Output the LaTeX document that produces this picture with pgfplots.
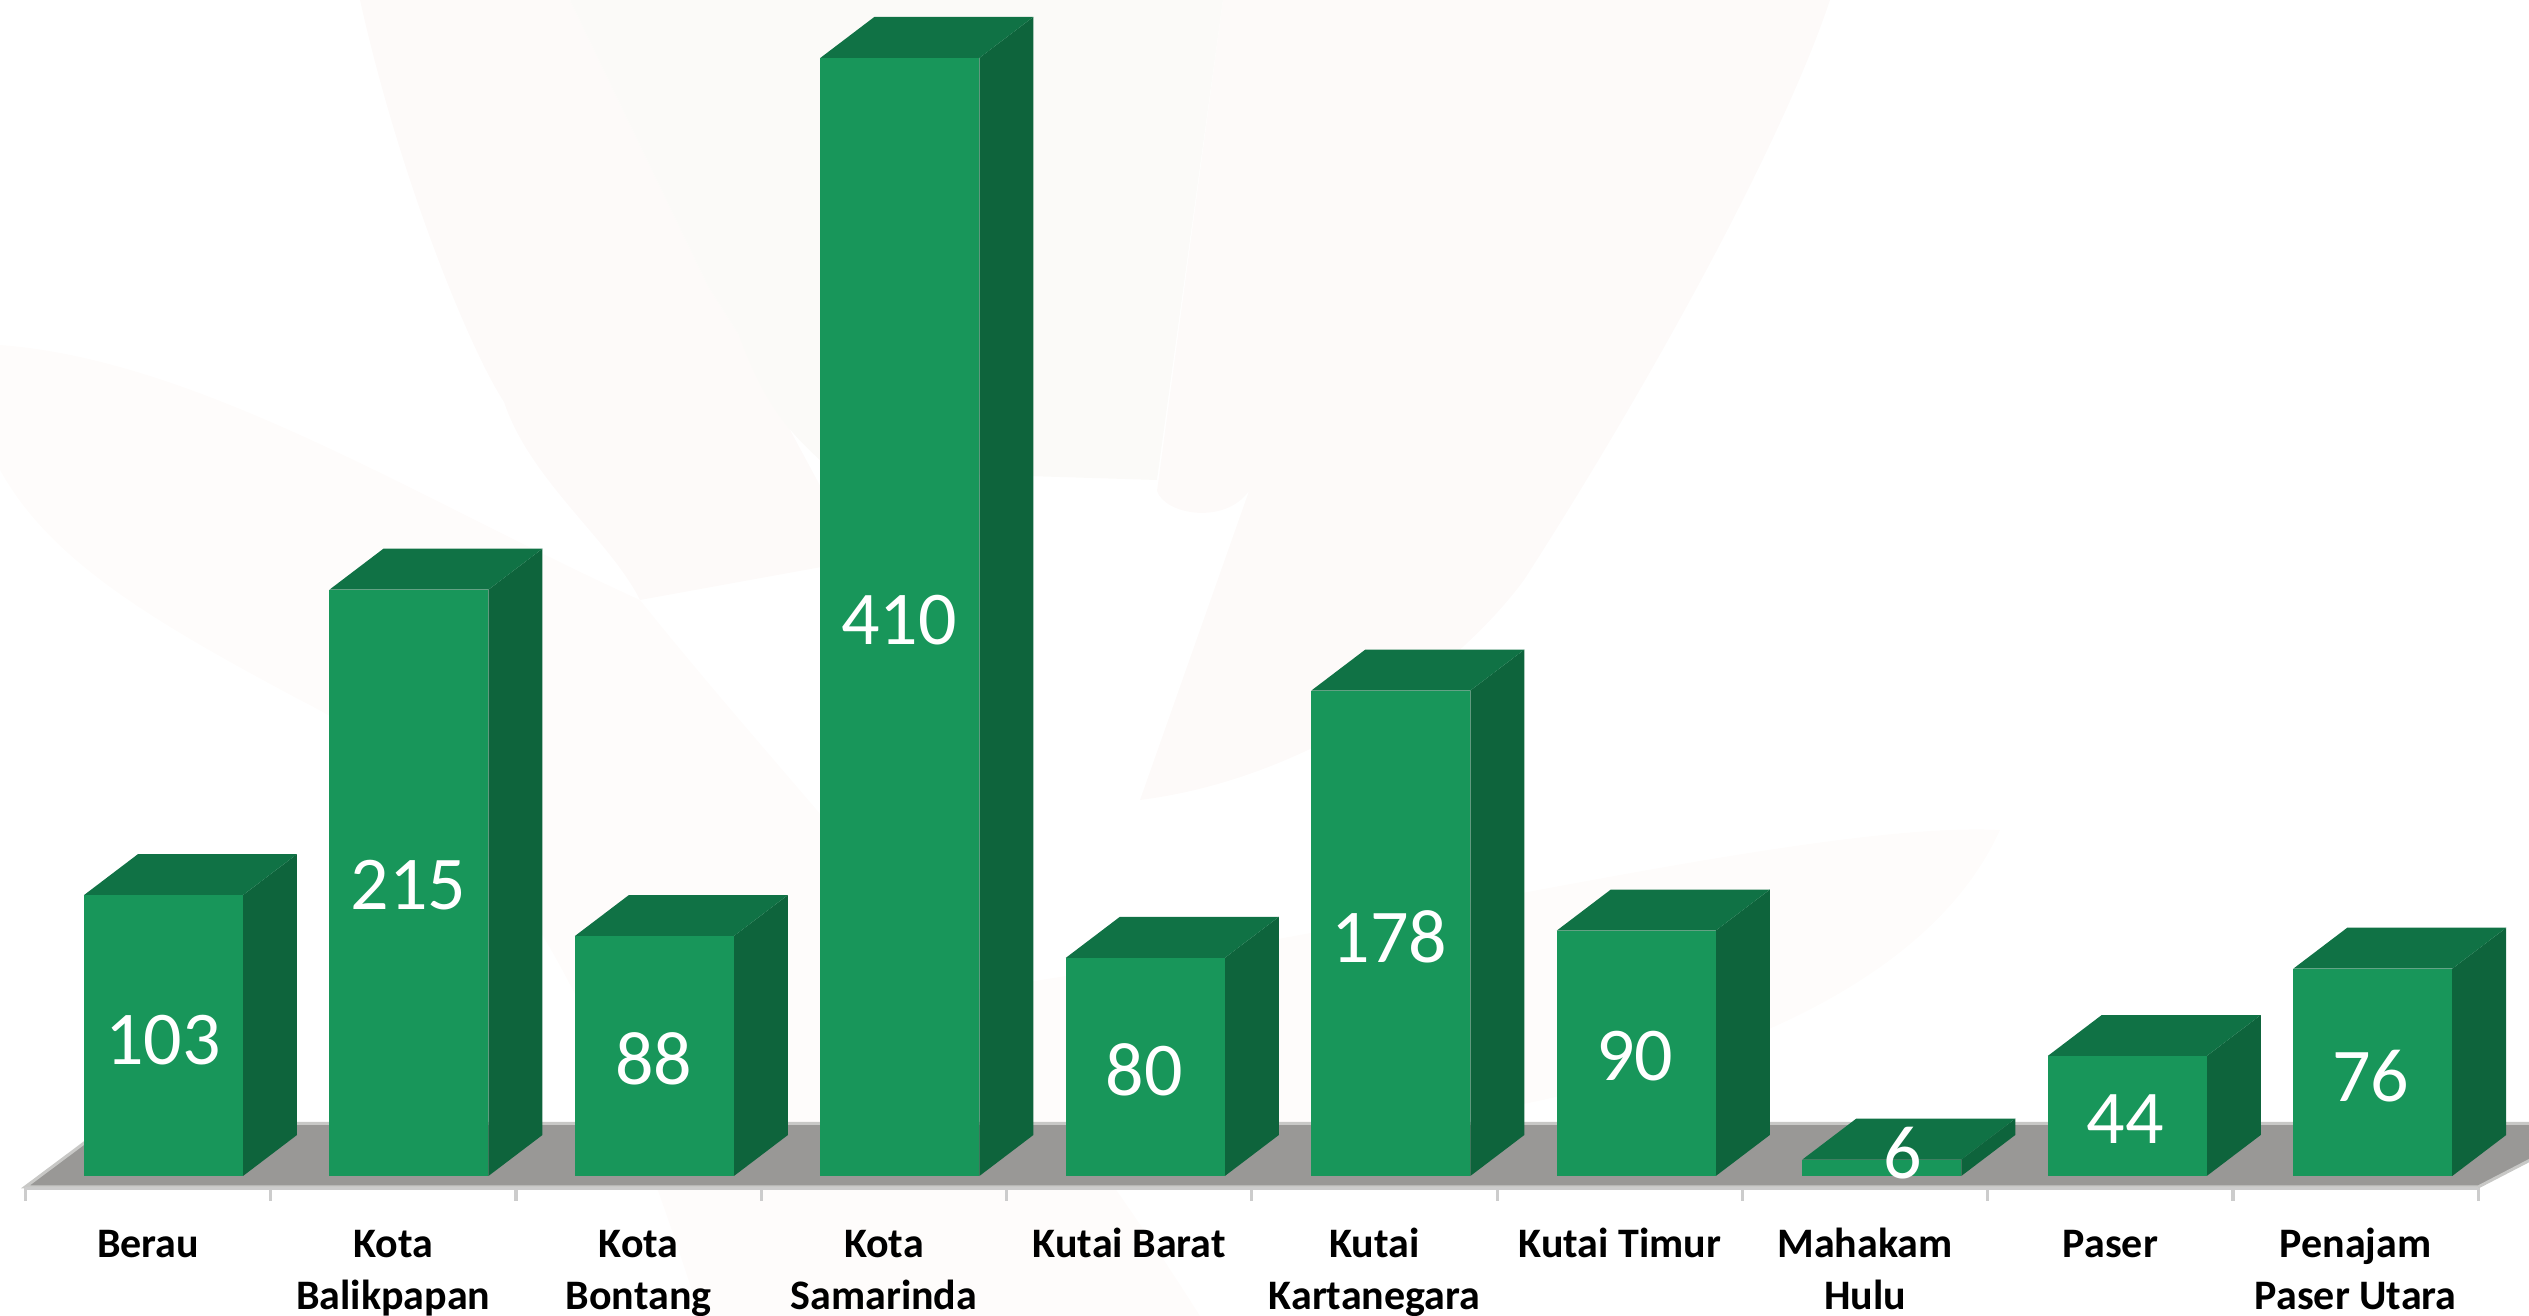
\documentclass[border=0pt]{standalone}
\usepackage{pgfplots}
\pgfplotsset{compat=1.18}
\usepackage{fontspec}
\setmainfont{Carlito}
\definecolor{front}{HTML}{18965A}
\definecolor{topf}{HTML}{107245}
\definecolor{side}{HTML}{0E643C}
\definecolor{floorc}{HTML}{999896}
\definecolor{flooredge}{HTML}{C8C8C6}
\definecolor{tickc}{HTML}{CCCCCC}
\definecolor{bgA}{HTML}{FDFAF9}
\definecolor{bgB}{HTML}{FBFAF8}
\definecolor{bgC}{HTML}{FEFCFB}
% one unit of x is 245.3 px, one unit of y is 2.727 px
\newcommand{\threedbar}[2]{%
  \pgfmathsetmacro{\xl}{#1*1.0007-0.2610}%
  \pgfmathsetmacro{\xr}{\xl+0.6482}%
  \pgfmathsetmacro{\xld}{\xl+0.2201}%
  \pgfmathsetmacro{\xrd}{\xr+0.2201}%
  \pgfmathsetmacro{\yt}{#2+15.03}%
  \edef\tmp{%
    \noexpand\addplot[draw=none,fill=side] coordinates {(\xr,0) (\xrd,15.03) (\xrd,\yt) (\xr,#2)} --cycle;
    \noexpand\addplot[draw=none,fill=topf] coordinates {(\xl,#2) (\xld,\yt) (\xrd,\yt) (\xr,#2)} --cycle;
    \noexpand\addplot[draw=none,fill=front] coordinates {(\xl,0) (\xl,#2) (\xr,#2) (\xr,0)} --cycle;
  }\tmp}
\begin{document}
\begin{tikzpicture}
\path[use as bounding box] (0,0) rectangle (1264.5pt,658pt);
\begin{scope}[x=0.5pt,y=-0.5pt,yshift=658pt]
% faint watermark of a hand
\fill[bgC] (0,345) .. controls (200,360) and (420,500) .. (640,600) .. controls (800,800) and (1000,1000) .. (1200,1316) -- (700,1316) .. controls (600,1000) and (500,800) .. (300,700) .. controls (150,620) and (50,560) .. (0,470) -- cycle;
\fill[bgA] (360,0) .. controls (400,180) and (470,350) .. (504,402) .. controls (530,480) and (610,540) .. (640,600) -- (860,560) -- (739,335) -- (708,286) -- (570,0) -- cycle;
\fill[bgB] (570,0) -- (708,286) -- (739,335) .. controls (770,420) and (800,440) .. (830,470) -- (1157,480) -- (1223,0) -- cycle;
\fill[bgA] (1223,0) -- (1157,491) .. controls (1165,515) and (1225,525) .. (1249,491) -- (1140,800) .. controls (1300,780) and (1450,680) .. (1524,580) .. controls (1640,400) and (1780,150) .. (1830,0) -- cycle;
\fill[bgC] (900,1000) .. controls (1300,950) and (1800,820) .. (2000,830) .. controls (1900,1050) and (1500,1150) .. (1000,1150) -- cycle;
\end{scope}
\begin{axis}[
  at={(0,0)}, anchor=south west,
  scale only axis, width=1264.5pt, height=658pt,
  xmin=-0.6034, xmax=9.7065, ymin=-51.34, ymax=431.24,
  clip=false,
  axis line style={draw=none},
  ytick=\empty,
  xtick={0,1,2,3,4,5,6,7,8,9},
  major tick length=0pt,
  xticklabels={\strut Berau,\strut Kota\\Balikpapan,\strut Kota\\Bontang,\strut Kota\\Samarinda,\strut Kutai Barat,\strut Kutai\\Kartanegara,\strut Kutai Timur,\strut Mahakam\\Hulu,\strut Paser,\strut Penajam\\Paser Utara},
  xticklabel style={align=center,anchor=north,yshift=47.8pt,inner sep=0pt,
    font=\fontsize{21}{26}\selectfont\bfseries,text=black},
]
% floor
\addplot[draw=flooredge,line width=1.5pt,fill=floorc] coordinates {(-0.5,-4) (-0.153,19.3) (10.0,19.3) (9.5,-4)} --cycle;
% axis line and ticks
\addplot[draw=tickc,line width=1.6pt] coordinates {(-0.5,-4.5) (9.5,-4.5)};
\pgfplotsinvokeforeach{-0.5,0.5,1.5,2.5,3.5,4.5,5.5,6.5,7.5,8.5,9.5}{
  \addplot[draw=tickc,line width=1.6pt] coordinates {(#1,-4.5) (#1,-9)};
}
\threedbar{0}{103}
\threedbar{1}{215}
\threedbar{2}{88}
\threedbar{3}{410}
\threedbar{4}{80}
\threedbar{5}{178}
\threedbar{6}{90}
\threedbar{7}{6}
\threedbar{8}{44}
\threedbar{9}{76}
% value labels
\addplot[only marks,mark=none,nodes near coords,point meta=explicit symbolic,
  nodes near coords align={center},
  every node near coord/.append style={text=white,inner sep=0pt,
    font=\fontsize{38}{38}\selectfont}]
  table[x=x,y=y,meta=v] {
x y v
0.0614 49.8 103
1.0614 106.8 215
2.0614 42.8 88
3.0614 203.8 410
4.0614 38.8 80
5.0614 87.8 178
6.0614 43.8 90
7.153 8.5 6
8.0614 20.8 44
9.0614 36.8 76
};
\end{axis}
\end{tikzpicture}
\end{document}
